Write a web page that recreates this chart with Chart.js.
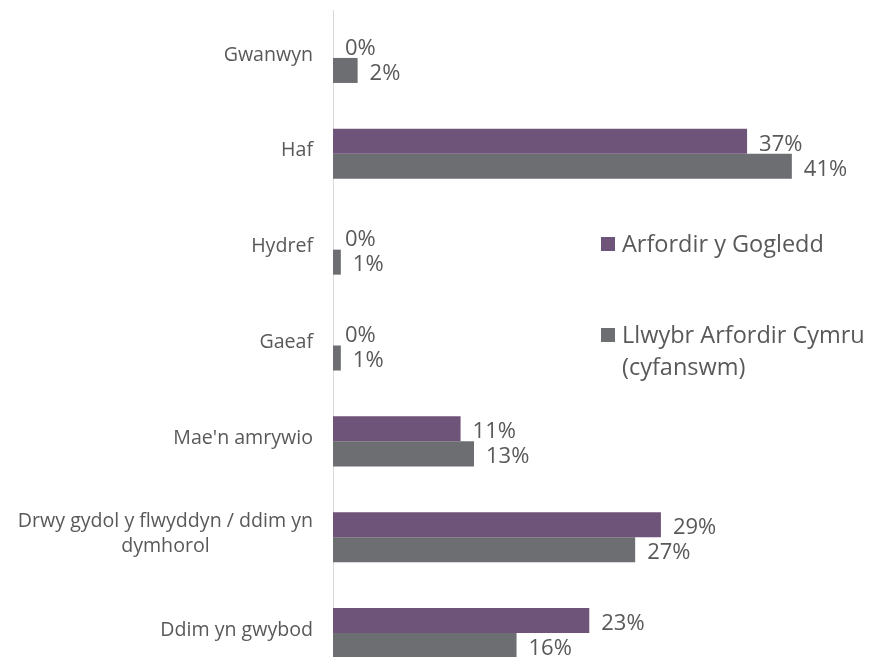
<!DOCTYPE html>
<html>
<head>
<meta charset="utf-8">
<script src="https://cdn.jsdelivr.net/npm/chart.js@4"></script>
<style>
  html, body { margin: 0; padding: 0; background: #fff; overflow: hidden; width: 869px; height: 657px; }
  #wrap { position: relative; width: 869px; height: 690px; }
  #legend { position: absolute; left: 0; top: 0; font-family: "Open Sans", sans-serif; color: #595959; font-size: 23.5px; }
  .item { position: absolute; left: 601px; line-height: 32px; white-space: nowrap; }
  .sw { position: absolute; left: 0; top: 10px; width: 14px; height: 14px; }
  .tx { position: absolute; left: 21px; top: 0; }
</style>
</head>
<body>
<div id="wrap">
  <canvas id="c"></canvas>
  <div id="legend"></div>
</div>
<script>
const categories = ['Gwanwyn', 'Haf', 'Hydref', 'Gaeaf', "Mae'n amrywio", ['Drwy gydol y flwyddyn / ddim yn', 'dymhorol'], 'Ddim yn gwybod'];
const seriesNames = ['Arfordir y Gogledd', 'Llwybr Arfordir Cymru (cyfanswm)'];
const northCoast = [0, 37, 0, 0, 11.4, 29.3, 22.9];
const walesTotal = [2.2, 41, 0.7, 0.7, 12.6, 27, 16.4];
const seriesColors = ['#6E5479', '#6D6E71'];
const xMax = 47;

const FONT = '"Open Sans", sans-serif';
const TEXT = '#595959';

const valueLabels = {
  id: 'valueLabels',
  afterDatasetsDraw(chart) {
    const ctx = chart.ctx;
    ctx.save();
    ctx.font = '22px ' + FONT;
    ctx.fillStyle = TEXT;
    ctx.textAlign = 'left';
    ctx.textBaseline = 'middle';
    chart.data.datasets.forEach((ds, di) => {
      const meta = chart.getDatasetMeta(di);
      meta.data.forEach((el, i) => {
        const v = ds.data[i];
        ctx.fillText(Math.round(v) + '%', el.x + 12, el.y + 3);
      });
    });
    ctx.restore();
  }
};

const catLabels = {
  id: 'catLabels',
  afterDraw(chart) {
    const ctx = chart.ctx;
    const y = chart.scales.y;
    const rightEdge = chart.chartArea.left - 20;
    ctx.save();
    ctx.font = '19.6px ' + FONT;
    ctx.fillStyle = TEXT;
    ctx.textAlign = 'center';
    ctx.textBaseline = 'middle';
    const lh = 25;
    categories.forEach((c, i) => {
      const lines = Array.isArray(c) ? c : [c];
      const maxW = Math.max(...lines.map(l => ctx.measureText(l).width));
      const cx = rightEdge - maxW / 2;
      const cy = y.getPixelForValue(i);
      const start = cy - (lines.length - 1) * lh / 2 - 3;
      lines.forEach((l, k) => ctx.fillText(l, cx, start + k * lh));
    });
    ctx.restore();
  }
};

new Chart(document.getElementById('c'), {
  type: 'bar',
  data: {
    labels: categories,
    datasets: [
      { label: seriesNames[0], data: northCoast, backgroundColor: seriesColors[0], borderWidth: 0 },
      { label: seriesNames[1], data: walesTotal, backgroundColor: seriesColors[1], borderWidth: 0 }
    ]
  },
  options: {
    indexAxis: 'y',
    responsive: true,
    maintainAspectRatio: false,
    animation: false,
    layout: { padding: { top: 10, bottom: 9, left: 0, right: 10 } },
    datasets: { bar: { barPercentage: 1, categoryPercentage: 0.522 } },
    plugins: { legend: { display: false }, tooltip: { enabled: false } },
    scales: {
      x: { display: false, min: 0, max: xMax },
      y: {
        grid: { display: false, drawTicks: false },
        border: { color: '#D9D9D9', width: 1 },
        ticks: { display: false },
        afterFit(scale) { scale.width = 333; }
      }
    }
  },
  plugins: [valueLabels, catLabels]
});

const legend = document.getElementById('legend');
const tops = [227, 318];
seriesNames.forEach((name, i) => {
  const it = document.createElement('div');
  it.className = 'item';
  it.style.top = tops[i] + 'px';
  const sw = document.createElement('div');
  sw.className = 'sw';
  sw.style.background = seriesColors[i];
  const tx = document.createElement('div');
  tx.className = 'tx';
  const parts = name.split(' (');
  tx.innerHTML = parts[0] + (parts[1] ? '<br>(' + parts[1] : '');
  it.appendChild(sw);
  it.appendChild(tx);
  legend.appendChild(it);
});
</script>
</body>
</html>
